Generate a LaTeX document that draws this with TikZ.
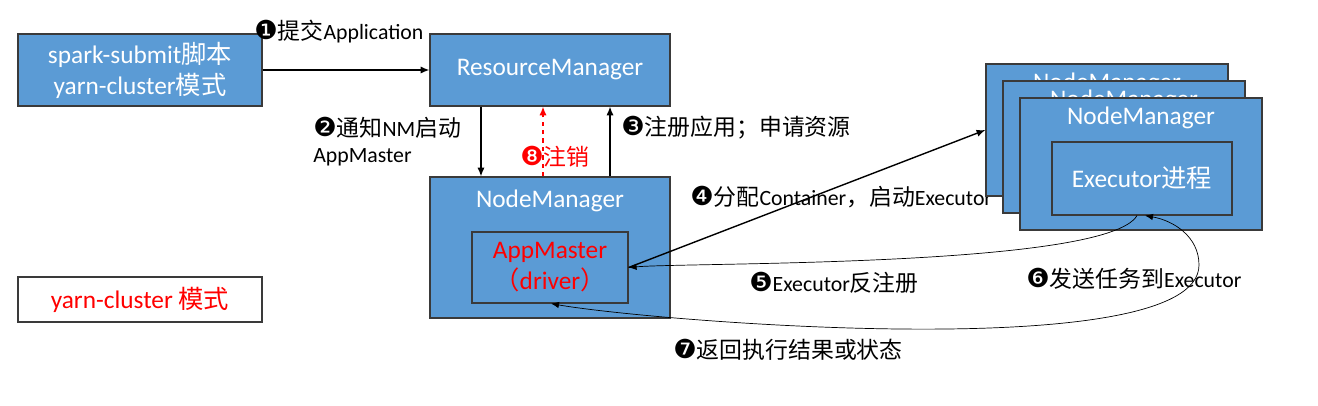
\documentclass[tikz,border=0pt]{standalone}
\usepackage{fontspec}
\setmainfont{Carlito}
\newfontfamily\cjk{Noto Sans CJK SC}
\newfontfamily\cjkl[Scale=1.05]{Noto Sans CJK SC}
\newfontfamily\dingfont[Scale=1.2]{DejaVu Sans}
\usetikzlibrary{arrows.meta}
\definecolor{nodeblue}{HTML}{5B9BD5}
\definecolor{edgegray}{HTML}{3A3A3A}
\begin{document}
\begin{tikzpicture}[x=0.025cm,y=0.025cm,
    box/.style={draw=edgegray,line width=0.8pt,fill=nodeblue,text=white,align=center,
      inner sep=0pt,font=\fontsize{18}{22}\selectfont},
    boxtitle/.style={text=white,inner sep=0pt,font=\fontsize{18}{22}\selectfont},
    lbl/.style={anchor=west,inner sep=0pt,font=\fontsize{15.5}{18}\selectfont},
    flow/.style={-{Latex[length=2.2mm,width=1.8mm]},line width=1pt},
    back/.style={-{Latex[length=2mm,width=1.6mm]},line width=0.5pt},
    both/.style={{Latex[length=2mm,width=1.6mm]}-{Latex[length=2mm,width=1.6mm]},line width=0.5pt}]
  \useasboundingbox (0,0) rectangle (1318,-406);
  % left side
  \node[box,minimum width=6.1cm,minimum height=1.8cm] (submit) at (140,-70)
    {spark-submit{\cjk 脚本}\\yarn-cluster{\cjk 模式}};
  \node[box,minimum width=6cm,minimum height=1.8cm] (rm) at (550,-70) {ResourceManager};
  \node[box,minimum width=6cm,minimum height=3.525cm] (nm) at (550,-247.5) {};
  \node[boxtitle] (nmt) at ([yshift=-0.6cm]nm.north) {NodeManager};
  \node[box,text=red,minimum width=3.9cm,minimum height=1.775cm] (am) at (550,-267.5)
    {AppMaster\\{\cjk （}driver{\cjk ）}};
  \node[draw=edgegray,line width=0.8pt,text=red,minimum width=6.1cm,minimum height=1.125cm,
    inner sep=0pt,font=\fontsize{18}{22}\selectfont] (legend) at (140,-299.5)
    {yarn-cluster {\cjk 模式}};
  \node[lbl] (l4) at (690,-197) {{\dingfont ❹}{\cjkl 分配}Container{\cjkl ，启动}Executor};
  % node managers on the right
  \foreach \i/\d in {A/0,B/17,C/34} {
    \node[box,minimum width=6.05cm,minimum height=3.3cm] (nm\i) at (1107+\d,-130-\d) {};
    \node[boxtitle] (nm\i t) at ([yshift=-0.5cm]nm\i.north) {NodeManager};
  }
  \node[box,minimum width=4.5cm,minimum height=1.825cm] (exe) at (1142,-178.5)
    {Executor{\cjk 进程}};
  % labels
  \node[lbl] (l1) at (254,-32) {{\dingfont ❶}{\cjkl 提交}Application};
  \node[lbl] (l2) at (313,-128) {{\dingfont ❷}{\cjkl 通知}NM{\cjkl 启动}};
  \node[lbl] (l2b) at (313,-157) {AppMaster};
  \node[lbl,text=red] (l8) at (520,-157) {{\dingfont ❽}{\cjkl 注销}};
  \node[lbl] (l3) at (621,-128) {{\dingfont ❸}{\cjkl 注册应用；申请资源}};
  \node[lbl] (l5) at (749,-283) {{\dingfont ❺}Executor{\cjkl 反注册}};
  \node[lbl] (l6) at (1026,-279) {{\dingfont ❻}{\cjkl 发送任务到}Executor};
  \node[lbl] (l7) at (673,-350) {{\dingfont ❼}{\cjkl 返回执行结果或状态}};
  % arrows
  \draw[flow] (submit) -- (rm);
  \draw[flow] ([xshift=-1.725cm]rm.south) -- ([xshift=-1.725cm]nm.north);
  \draw[flow,red,dashed] ([xshift=-0.175cm]nm.north) -- ([xshift=-0.175cm]rm.south);
  \draw[flow] ([xshift=1.5cm]nm.north) -- ([xshift=1.5cm]rm.south);
  \draw[flow] (am.east) -- (nmA.west);
  \draw[back] ([xshift=-0.125cm]exe.south) to[out=-120,in=5,looseness=0.3] (am.east);
  \coordinate (turn) at (1199,-265);
  \draw[both] ([xshift=0.025cm]am.south) to[out=-10,in=-90,looseness=0.4] (turn)
    to[out=90,in=-10] ([xshift=0.075cm]exe.south);
\end{tikzpicture}
\end{document}
